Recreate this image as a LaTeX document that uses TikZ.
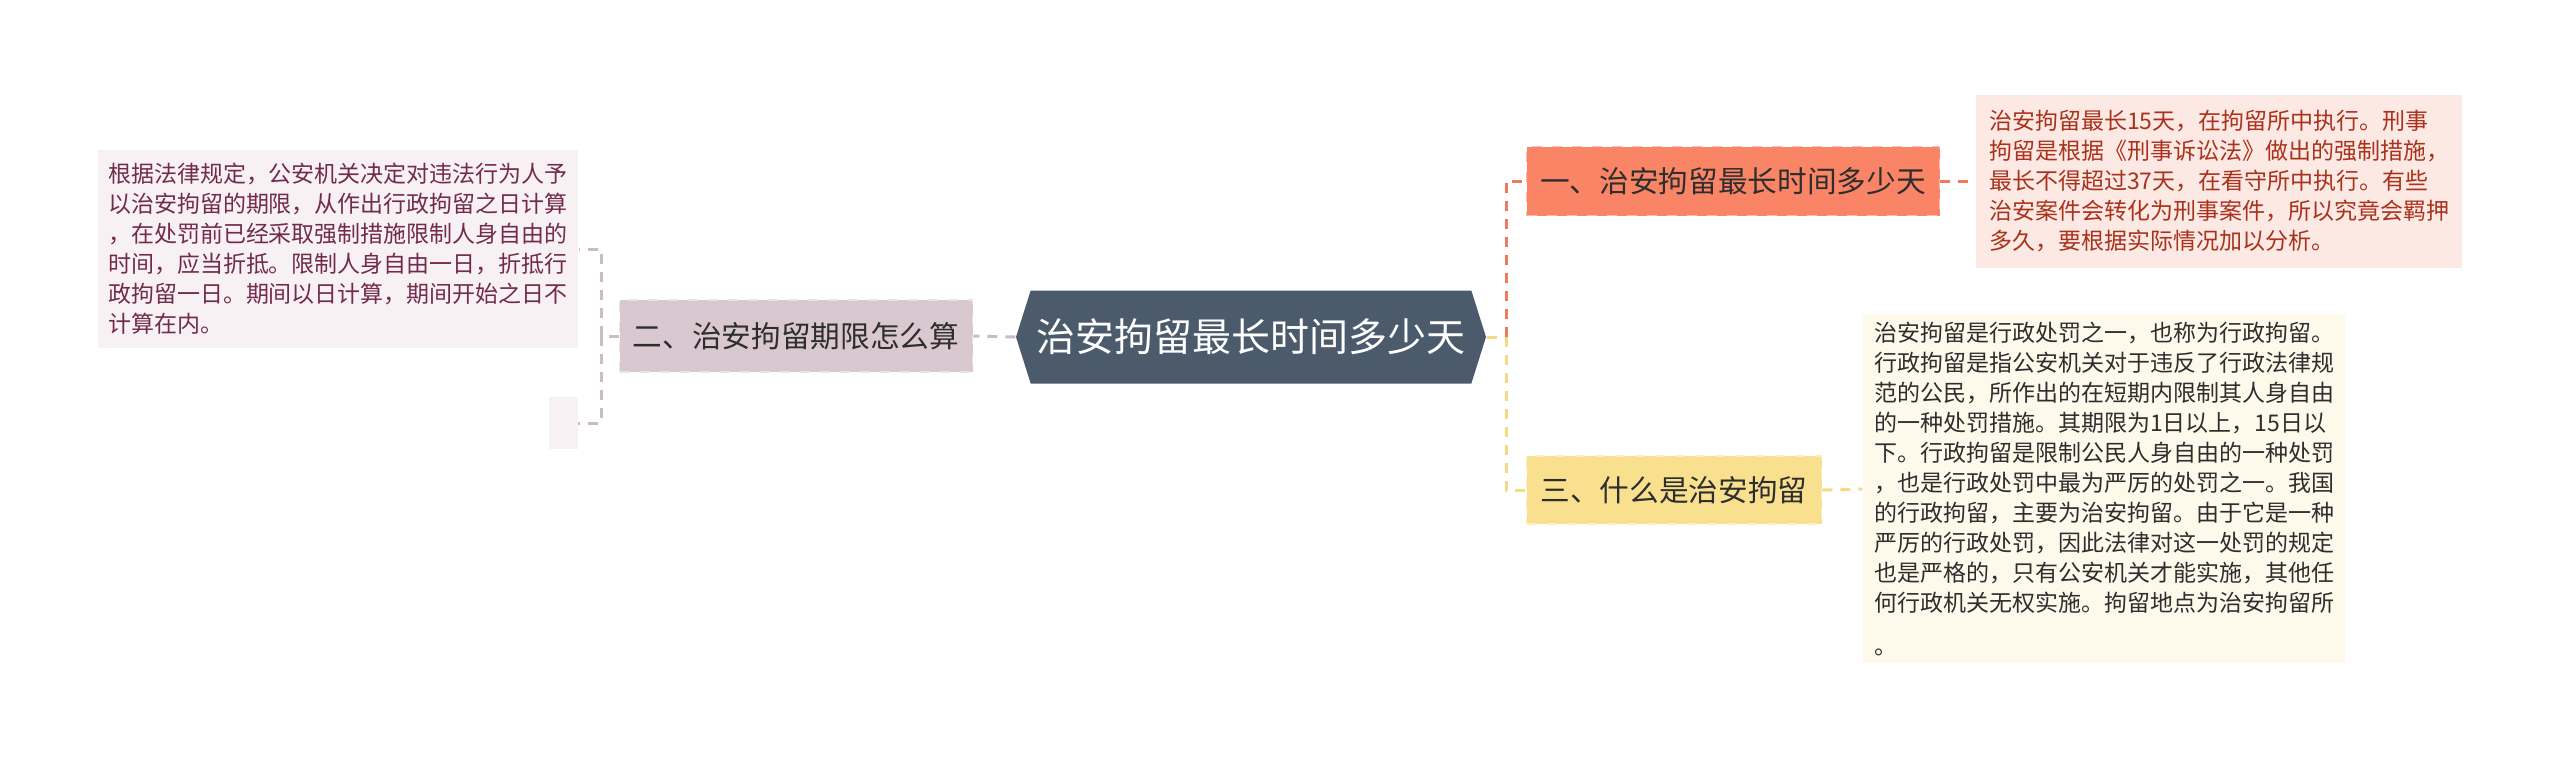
\documentclass[tikz,border=0pt]{standalone}
\usepackage{fontspec}
\newfontfamily\cjk{Noto Sans CJK SC}
\usepackage{xcolor}
\usepackage{tikz}
\usetikzlibrary{shapes.symbols}

\definecolor{rootfill}{HTML}{4B5B6B}
\definecolor{greyfill}{HTML}{D9C8CF}
\definecolor{greyline}{HTML}{CDBBC3}
\definecolor{greynote}{HTML}{F8F1F4}
\definecolor{greytext}{HTML}{722B4D}
\definecolor{redfill}{HTML}{FA8466}
\definecolor{redline}{HTML}{F07A5C}
\definecolor{rednote}{HTML}{FDE9E4}
\definecolor{redtext}{HTML}{A8321C}
\definecolor{yelfill}{HTML}{F9E08F}
\definecolor{yelline}{HTML}{F5DA86}
\definecolor{yelnote}{HTML}{FEF9EA}
\definecolor{darktext}{HTML}{2E2E2E}

\begin{document}
\begin{tikzpicture}[
    x=0.3pt, y=-0.3pt,
    topic/.style={rectangle,draw,dashed,line width=0.5pt,inner sep=0pt,
                  text=darktext,font=\cjk\fontsize{8.9pt}{10pt}\selectfont},
    note/.style={rectangle,align=left,inner sep=0pt,
                 font=\cjk\fontsize{6.9pt}{9pt}\selectfont},
    link/.style={line width=0.9pt,dash pattern=on 3pt off 2.4pt},
  ]
  \useasboundingbox (0,0) rectangle (2560,761);

  % --- central topic ---
  \node[signal,signal to=west and east,signal pointer angle=145,
        fill=rootfill,text=white,inner sep=0pt,
        minimum width=141pt,minimum height=27.9pt,
        font=\cjk\fontsize{11.7pt}{13pt}\selectfont] (root) at (1251,337)
        {治安拘留最长时间多少天};

  % --- left branch ---
  \node[topic,fill=greyfill,draw=greyfill!55!white,minimum width=105.9pt,minimum height=21.6pt]
        (n2) at (796,336) {二、治安拘留期限怎么算};
  \node[note,fill=greynote,text=greytext,minimum width=144pt,minimum height=59.4pt]
        (t2) at (338,249) {根据法律规定，公安机关决定对违法行为人予\\
        以治安拘留的期限，从作出行政拘留之日计算\\
        ，在处罚前已经采取强制措施限制人身自由的\\
        时间，应当折抵。限制人身自由一日，折抵行\\
        政拘留一日。期间以日计算，期间开始之日不\\
        计算在内。};
  \node[note,fill=greynote,minimum width=8.7pt,minimum height=15.6pt]
        (e2) at (563,423) {};

  % --- right branches ---
  \node[topic,fill=redfill,draw=redfill!55!white,minimum width=123.9pt,minimum height=20.7pt]
        (n1) at (1733,181) {一、治安拘留最长时间多少天};
  \node[note,fill=rednote,text=redtext,minimum width=145.8pt,minimum height=51.9pt]
        (t1) at (2219,181) {治安拘留最长15天，在拘留所中执行。刑事\\
        拘留是根据《刑事诉讼法》做出的强制措施，\\
        最长不得超过37天，在看守所中执行。有些\\
        治安案件会转化为刑事案件，所以究竟会羁押\\
        多久，要根据实际情况加以分析。};

  \node[topic,fill=yelfill,draw=yelfill!55!white,minimum width=88.5pt,minimum height=20.4pt]
        (n3) at (1674,490) {三、什么是治安拘留};
  \node[note,fill=yelnote,text=darktext,minimum width=144.6pt,minimum height=104.4pt]
        (t3) at (2104,489) {治安拘留是行政处罚之一，也称为行政拘留。\\
        行政拘留是指公安机关对于违反了行政法律规\\
        范的公民，所作出的在短期内限制其人身自由\\
        的一种处罚措施。其期限为1日以上，15日以\\
        下。行政拘留是限制公民人身自由的一种处罚\\
        ，也是行政处罚中最为严厉的处罚之一。我国\\
        的行政拘留，主要为治安拘留。由于它是一种\\
        严厉的行政处罚，因此法律对这一处罚的规定\\
        也是严格的，只有公安机关才能实施，其他任\\
        何行政机关无权实施。拘留地点为治安拘留所\\[4pt]
        。};

  % --- connectors ---
  \coordinate (jl) at (601,336);
  \coordinate (jr) at (1506,337);

  \draw[link,greyline] (root.west) -- (n2.east);
  \draw[link,greyline] (n2.west) -- (jl);
  \draw[link,greyline] (jl) |- (t2.east);
  \draw[link,greyline] (jl) |- (e2.east);

  \draw[link,yelline] (root.east) -- (jr);
  \draw[link,redline] (jr) |- (n1.west);
  \draw[link,yelline] (jr) |- (n3.west);
  \draw[link,redline] (n1.east) -- (t1.west);
  \draw[link,yelline] (n3.east) -- (t3.west);

\end{tikzpicture}
\end{document}
